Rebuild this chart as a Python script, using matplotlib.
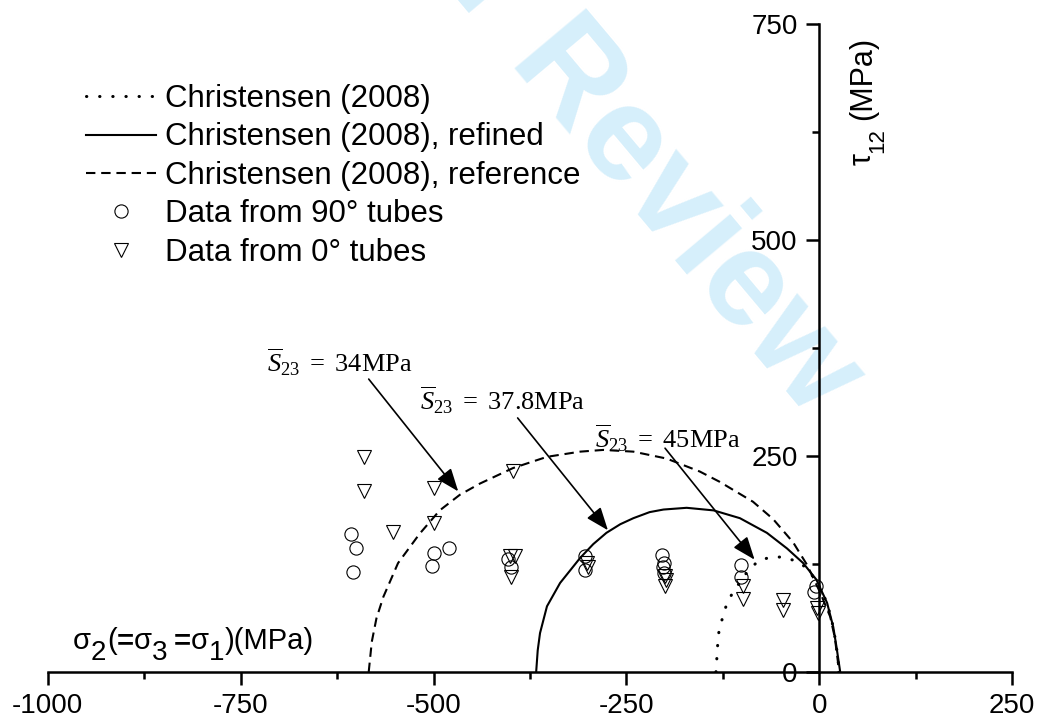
import matplotlib
matplotlib.use("Agg")
import matplotlib.pyplot as plt
import matplotlib.transforms as mtransforms
from matplotlib.ticker import MultipleLocator

plt.rcParams['font.family'] = ['Liberation Sans', 'DejaVu Sans']
plt.rcParams['axes.unicode_minus'] = False
plt.rcParams['mathtext.fontset'] = 'custom'
plt.rcParams['mathtext.rm'] = 'Liberation Serif'
plt.rcParams['mathtext.it'] = 'Liberation Serif:italic'
plt.rcParams['mathtext.bf'] = 'Liberation Serif:bold'

# ---- failure envelopes (sigma2 = sigma3 = sigma1, tau12), MPa ----
orig_x = [-134, -133, -131, -127, -121, -114, -97, -79, -62, -47, -29, -19, -4, 10, 18, 22, 26]
orig_y = [0, 14, 43, 58, 76, 89, 112, 129, 133, 133, 128, 122, 106, 80, 52, 30, 0]

refined_x = [-367, -365, -362, -353, -336, -310, -293, -276, -258, -241, -220, -202, -172,
             -137, -103, -68, -42, -21, -4, 10, 18, 22, 27]
refined_y = [0, 25, 45, 76, 103, 132, 148, 161, 171, 178, 185, 188, 190,
             187, 178, 161, 143, 126, 107, 80, 52, 30, 0]

ref_x = [-584, -580, -574, -565, -546, -518, -492, -466, -440, -397, -353, -310, -280, -241,
         -198, -155, -129, -86, -60, -34, -16, 1, 14, 20, 24, 25]
ref_y = [0, 35, 62, 87, 126, 160, 187, 205, 218, 236, 249, 255, 257, 255,
         247, 232, 220, 197, 177, 150, 124, 92, 64, 40, 12, 0]

# ---- test data ----
tube90_x = [-607, -600, -605, -499, -480, -502, -403, -400, -304, -304,
            -204, -201, -202, -201, -102, -102, -4, -7]
tube90_y = [160, 144, 116, 138, 144, 123, 131, 121, 134, 118,
            135, 126, 121, 114, 124, 110, 100, 92]

tube0_x = [-590, -590, -500, -552, -500, -397, -401, -394, -400, -301, -300,
           -200, -199, -200, -99, -99, -47, -47, -3, -2]
tube0_y = [249, 209, 213, 162, 172, 233, 134, 134, 110, 126, 122,
           111, 107, 100, 99, 85, 83, 72, 74, 68]

legend_labels = ["Christensen (2008)", "Christensen (2008), refined",
                 "Christensen (2008), reference", "Data from 90° tubes",
                 "Data from 0° tubes"]

# annotation labels: text, text anchor, arrow start, arrow tip
s23_labels = [r"$\overline{S}_{23}\ =\ 34\mathrm{MPa}$",
              r"$\overline{S}_{23}\ =\ 37.8\mathrm{MPa}$",
              r"$\overline{S}_{23}\ =\ 45\mathrm{MPa}$"]
s23_text_xy = [(-716, 347), (-517, 303), (-291, 259)]
s23_arrow_from = [(-584, 339), (-391, 294), (-200, 259)]
s23_arrow_to = [(-468, 209), (-274, 164), (-84, 130)]

fig = plt.figure(figsize=(10.39, 7.22), dpi=100)
ax = fig.add_axes([0.0459, 0.0693, 0.9284, 0.8975])
ax.set_xlim(-1000, 250)
ax.set_ylim(0, 750)

for side in ("top", "right"):
    ax.spines[side].set_visible(False)
ax.spines['left'].set_position(('data', 0))
for side in ("left", "bottom"):
    ax.spines[side].set_linewidth(1.8)

ax.xaxis.set_major_locator(MultipleLocator(250))
ax.xaxis.set_minor_locator(MultipleLocator(125))
ax.yaxis.set_major_locator(MultipleLocator(250))
ax.yaxis.set_minor_locator(MultipleLocator(125))
ax.tick_params(which='major', direction='out', length=9.5, width=1.8, labelsize=20, pad=6)
ax.tick_params(which='minor', direction='out', length=5, width=1.8)

# watermark
ax.text(0.7796, 0.4183, "For Peer Review", transform=fig.transFigure, rotation=-50,
        rotation_mode='anchor', ha='right', va='baseline', fontsize=98,
        fontweight='bold', color='#d6effb', zorder=0, clip_on=False)

l_orig, = ax.plot(orig_x, orig_y, color='k', lw=2.2, linestyle=(0, (0.1, 4.2)),
                  dash_capstyle='round', zorder=3)
l_ref_solid, = ax.plot(refined_x, refined_y, color='k', lw=1.5, zorder=3)
l_ref, = ax.plot(ref_x, ref_y, color='k', lw=1.5, linestyle=(0, (4.5, 2.8)), zorder=3)
m90, = ax.plot(tube90_x, tube90_y, linestyle='none', marker='o', ms=9.5,
               mfc='none', mec='k', mew=0.8, zorder=4)
m0, = ax.plot(tube0_x, tube0_y, linestyle='none', marker='v', ms=10.5,
              mfc='none', mec='k', mew=0.8, zorder=4)

leg = ax.legend([l_orig, l_ref_solid, l_ref, m90, m0], legend_labels,
                loc='upper left', bbox_to_anchor=(86 / 1039, 1 - 84 / 722),
                bbox_transform=fig.transFigure, frameon=False, fontsize=22.5,
                handlelength=2.25, handletextpad=0.28, labelspacing=0.27,
                borderpad=0, borderaxespad=0)

for lbl, txy, a0, a1 in zip(s23_labels, s23_text_xy, s23_arrow_from, s23_arrow_to):
    ax.text(txy[0], txy[1], lbl, fontsize=19, ha='left', va='baseline', zorder=5)
    ax.annotate("", xy=a1, xytext=a0,
                arrowprops=dict(arrowstyle='-|>,head_length=0.7,head_width=0.27',
                                mutation_scale=20, lw=1.2, color='k',
                                shrinkA=0, shrinkB=0), zorder=5)

# axis titles drawn piece by piece so subscripts keep their own size/offset
renderer = fig.canvas.get_renderer()


def rich_text(x, y, pieces, rotation=0):
    offset = 0.0
    for piece in pieces:
        if piece[0] is None:
            offset += piece[1]
            continue
        s, dy, size, weight = piece
        if rotation == 0:
            tr = mtransforms.offset_copy(fig.transFigure, fig=fig, x=offset, y=dy, units='points')
        else:
            tr = mtransforms.offset_copy(fig.transFigure, fig=fig, x=-dy, y=offset, units='points')
        t = fig.text(x, y, s, transform=tr, rotation=rotation, rotation_mode='anchor',
                     ha='left', va='baseline', fontsize=size, fontweight=weight)
        bb = t.get_window_extent(renderer)
        adv = bb.width if rotation == 0 else bb.height
        offset += adv * 72.0 / fig.dpi


rich_text(72.7 / 1039, 1 - 649.3 / 722, [
    ("σ", 0, 21, 'normal'), ("2", -8, 20, 'normal'), (None, 0.5), ("(", 0, 21, 'normal'),
    ("=", 0, 21, 'bold'), ("σ", 0, 21, 'normal'), ("3", -8, 20, 'normal'),
    (None, 5), ("=", 0, 21, 'bold'), ("σ", 0, 21, 'normal'), ("1", -8, 20, 'normal'),
    (")(MPa)", 0, 21, 'normal')])

rich_text(871 / 1039, 1 - 165 / 722, [
    ("τ", 0, 22, 'normal'), ("12", -9, 16, 'normal'), (None, 6),
    ("(MPa)", 0, 22, 'normal')], rotation=90)

fig.savefig("out.png", dpi=100)
